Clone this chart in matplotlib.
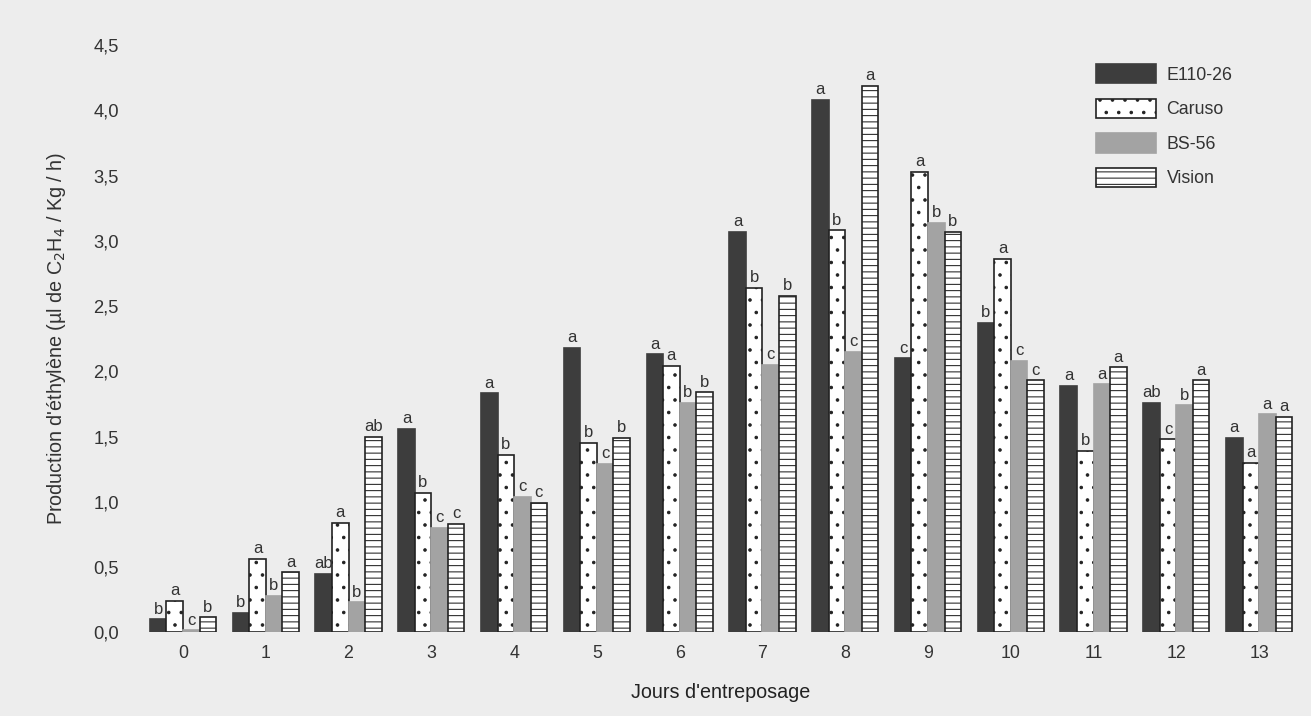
import numpy as np
import matplotlib
matplotlib.use('Agg')
import matplotlib.pyplot as plt

plt.rcParams['font.family'] = ['Liberation Sans', 'DejaVu Sans']
plt.rcParams['hatch.linewidth'] = 0.5

days = list(range(14))
cultivars = ['E110-26', 'Caruso', 'BS-56', 'Vision']

e110 = [0.10, 0.15, 0.45, 1.56, 1.83, 2.18, 2.13, 3.07, 4.08, 2.10, 2.37, 1.89, 1.76, 1.49]
caruso = [0.24, 0.565, 0.84, 1.07, 1.36, 1.45, 2.04, 2.64, 3.08, 3.53, 2.86, 1.39, 1.48, 1.30]
bs56 = [0.015, 0.28, 0.23, 0.80, 1.04, 1.29, 1.76, 2.05, 2.15, 3.14, 2.08, 1.90, 1.74, 1.67]
vision = [0.115, 0.46, 1.50, 0.83, 0.99, 1.49, 1.84, 2.58, 4.19, 3.07, 1.93, 2.03, 1.93, 1.65]

lt_e110 = ['b', 'b', 'ab', 'a', 'a', 'a', 'a', 'a', 'a', 'c', 'b', 'a', 'ab', 'a']
lt_caruso = ['a', 'a', 'a', 'b', 'b', 'b', 'a', 'b', 'b', 'a', 'a', 'b', 'c', 'a']
lt_bs56 = ['c', 'b', 'b', 'c', 'c', 'c', 'b', 'c', 'c', 'b', 'c', 'a', 'b', 'a']
lt_vision = ['b', 'a', 'ab', 'c', 'c', 'b', 'b', 'b', 'a', 'b', 'c', 'a', 'a', 'a']

series = [e110, caruso, bs56, vision]
letters = [lt_e110, lt_caruso, lt_bs56, lt_vision]
styles = [
    dict(color='#3d3d3d', edgecolor='#3d3d3d', hatch=None),
    dict(color='white', edgecolor='#222222', hatch='..'),
    dict(color='#a3a3a3', edgecolor='#a3a3a3', hatch=None),
    dict(color='white', edgecolor='#222222', hatch='----'),
]

bg = '#ededed'
fig = plt.figure(figsize=(1311 / 150, 716 / 150), dpi=150, facecolor=bg)
ax = fig.add_axes([0.108, 0.117, 0.884, 0.82], facecolor=bg)

x = np.arange(len(days))
w = 0.2
for k, (vals, lts, st) in enumerate(zip(series, letters, styles)):
    pos = x + (k - 1.5) * w
    ax.bar(pos, vals, w, color=st['color'], edgecolor=st['edgecolor'],
           hatch=st['hatch'], linewidth=0.8, label=cultivars[k])
    for px, v, t in zip(pos, vals, lts):
        ax.text(px, v + 0.02, t, ha='center', va='bottom', fontsize=8, color='#333333')

ax.set_xlim(-0.5, 13.5)
ax.set_ylim(0, 4.5)
ax.set_xticks(x)
ax.set_xticklabels([str(d) for d in days])
yt = np.arange(0, 4.51, 0.5)
ax.set_yticks(yt)
ax.set_yticklabels([f'{v:.1f}'.replace('.', ',') for v in yt])
ax.tick_params(axis='x', length=0, labelsize=8.5, colors='#333333', pad=6)
ax.tick_params(axis='y', length=0, labelsize=8.8, colors='#333333', pad=11)
for s in ax.spines.values():
    s.set_visible(False)

ax.set_xlabel("Jours d'entreposage", fontsize=9.5, color='#222222', labelpad=10)
ax.set_ylabel("Production d'éthylène (µl de C$_2$H$_4$ / Kg / h)", fontsize=9.5,
              color='#333333', labelpad=12)

leg = ax.legend(loc='upper right', bbox_to_anchor=(0.955, 0.995), frameon=False,
                fontsize=8.5, handlelength=3.4, handleheight=1.3, labelspacing=0.85,
                handletextpad=0.6)
for t in leg.get_texts():
    t.set_color('#333333')

fig.savefig('out.png', dpi=150, facecolor=bg)
